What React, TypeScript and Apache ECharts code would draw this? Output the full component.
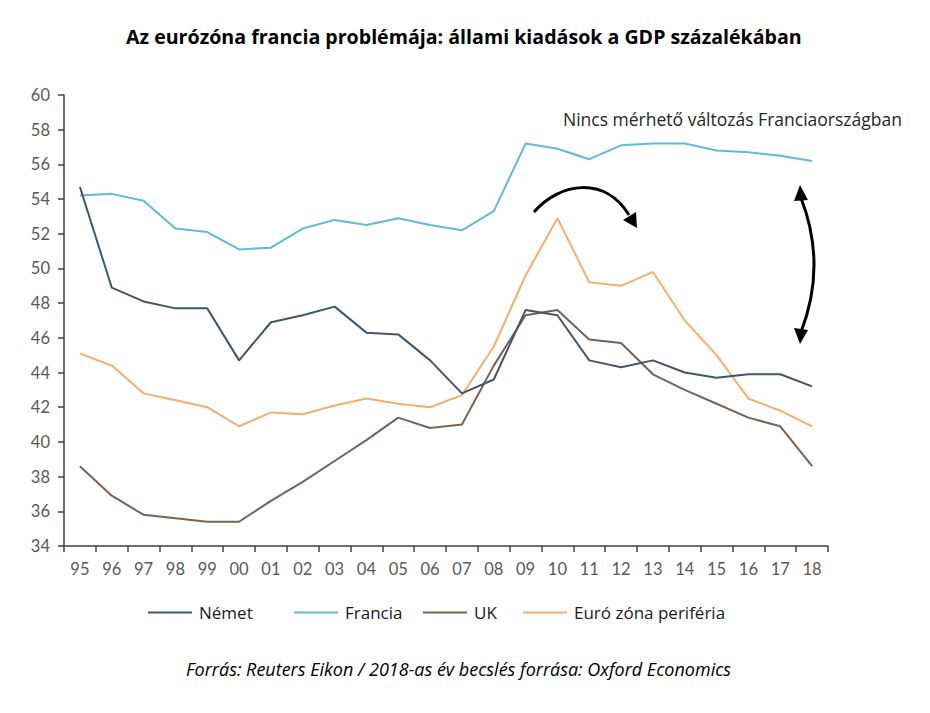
import React, { useEffect, useRef } from "react";
import * as echarts from "echarts";

const years = ["95","96","97","98","99","00","01","02","03","04","05","06","07","08","09","10","11","12","13","14","15","16","17","18"];
const nemet = [54.7,48.9,48.1,47.7,47.7,44.7,46.9,47.3,47.8,46.3,46.2,44.7,42.8,43.6,47.6,47.3,44.7,44.3,44.7,44.0,43.7,43.9,43.9,43.2];
const francia = [54.2,54.3,53.9,52.3,52.1,51.1,51.2,52.3,52.8,52.5,52.9,52.5,52.2,53.3,57.2,56.9,56.3,57.1,57.2,57.2,56.8,56.7,56.5,56.2];
const uk = [38.6,36.9,35.8,35.6,35.4,35.4,36.6,37.7,38.9,40.1,41.4,40.8,41.0,44.4,47.3,47.6,45.9,45.7,43.9,43.0,42.2,41.4,40.9,38.6];
const euro = [45.1,44.4,42.8,42.4,42.0,40.9,41.7,41.6,42.1,42.5,42.2,42.0,42.7,45.5,49.6,52.9,49.2,49.0,49.8,47.0,45.0,42.5,41.8,40.9];

const seriesNames = ["Német", "Francia", "UK", "Euró zóna periféria"];
const colors = ["#3f5670", "#5fbcd8", "#7a6251", "#f5ae72"];
const title = "Az eurózóna francia problémája: állami kiadások a GDP százalékában";
const note = "Nincs mérhető változás Franciaországban";
const source = "Forrás: Reuters Eikon / 2018-as év becslés forrása: Oxford Economics";

export default function App() {
  const ref = useRef<HTMLDivElement>(null);
  useEffect(() => {
    const chart = echarts.init(ref.current!, null, { renderer: "svg" });
    const data = [nemet, francia, uk, euro];
    const legendLeft = [143, 289, 418, 518];
    chart.setOption({
      animation: false,
      backgroundColor: "#ffffff",
      title: {
        text: title,
        left: 121,
        top: 21,
        textStyle: { fontFamily: "Open Sans", fontWeight: "bold", fontSize: 19.6, color: "#000" },
      },
      legend: seriesNames.map((n, i) => ({
        data: [n],
        left: legendLeft[i],
        top: 599,
        itemWidth: 44,
        itemHeight: 2,
        itemGap: 0,
        icon: "rect",
        textStyle: { fontFamily: "Open Sans", fontSize: 17, color: "#1a1a1a", padding: [0, 0, 0, 2] },
      })),
      grid: { left: 64, top: 95, width: 764, height: 451 },
      xAxis: {
        type: "category",
        data: years,
        boundaryGap: true,
        axisLine: { lineStyle: { color: "#404040", width: 1.5 } },
        axisTick: { show: true, length: 6, lineStyle: { color: "#404040", width: 1.5 } },
        axisLabel: { fontFamily: "Lato", fontSize: 16.5, color: "#595959", margin: 14 },
      },
      yAxis: {
        type: "value",
        min: 34,
        max: 60,
        interval: 2,
        splitLine: { show: false },
        axisLine: { show: true, lineStyle: { color: "#404040", width: 1.5 } },
        axisTick: { show: true, length: 6, lineStyle: { color: "#404040", width: 1.5 } },
        axisLabel: { fontFamily: "Lato", fontSize: 16.5, color: "#595959", margin: 14 },
      },
      series: seriesNames.map((n, i) => ({
        name: n,
        type: "line",
        data: data[i],
        symbol: "none",
        lineStyle: { color: colors[i], width: 2 },
        itemStyle: { color: colors[i] },
        z: 4 - i,
      })),
      graphic: [
        {
          type: "text",
          left: 563,
          top: 110,
          style: { text: note, fontFamily: "Open Sans", fontSize: 17.5, fill: "#262626" },
        },
        {
          type: "text",
          left: 186,
          top: 660,
          style: { text: source, fontFamily: "Open Sans", fontStyle: "italic", fontSize: 18, fill: "#000" },
        },
        {
          type: "bezierCurve",
          shape: { x1: 534, y1: 212, cpx1: 560, cpy1: 182, cpx2: 605, cpy2: 176, x2: 629, y2: 215 },
          style: { stroke: "#000", lineWidth: 3, fill: "none" },
        },
        {
          type: "polygon",
          shape: { points: [[637, 228], [623, 220], [636, 212]] },
          style: { fill: "#000" },
        },
        {
          type: "bezierCurve",
          shape: { x1: 801, y1: 198, cpx1: 827, cpy1: 265, x2: 801, y2: 332 },
          style: { stroke: "#000", lineWidth: 3, fill: "none" },
        },
        {
          type: "polygon",
          shape: { points: [[800, 185], [794, 201], [808, 200]] },
          style: { fill: "#000" },
        },
        {
          type: "polygon",
          shape: { points: [[800, 344], [794, 328], [808, 330]] },
          style: { fill: "#000" },
        },
      ],
    });
    return () => chart.dispose();
  }, []);
  return <div ref={ref} style={{ position: "fixed", left: 0, top: 0, width: 930, height: 713 }} />;
}
